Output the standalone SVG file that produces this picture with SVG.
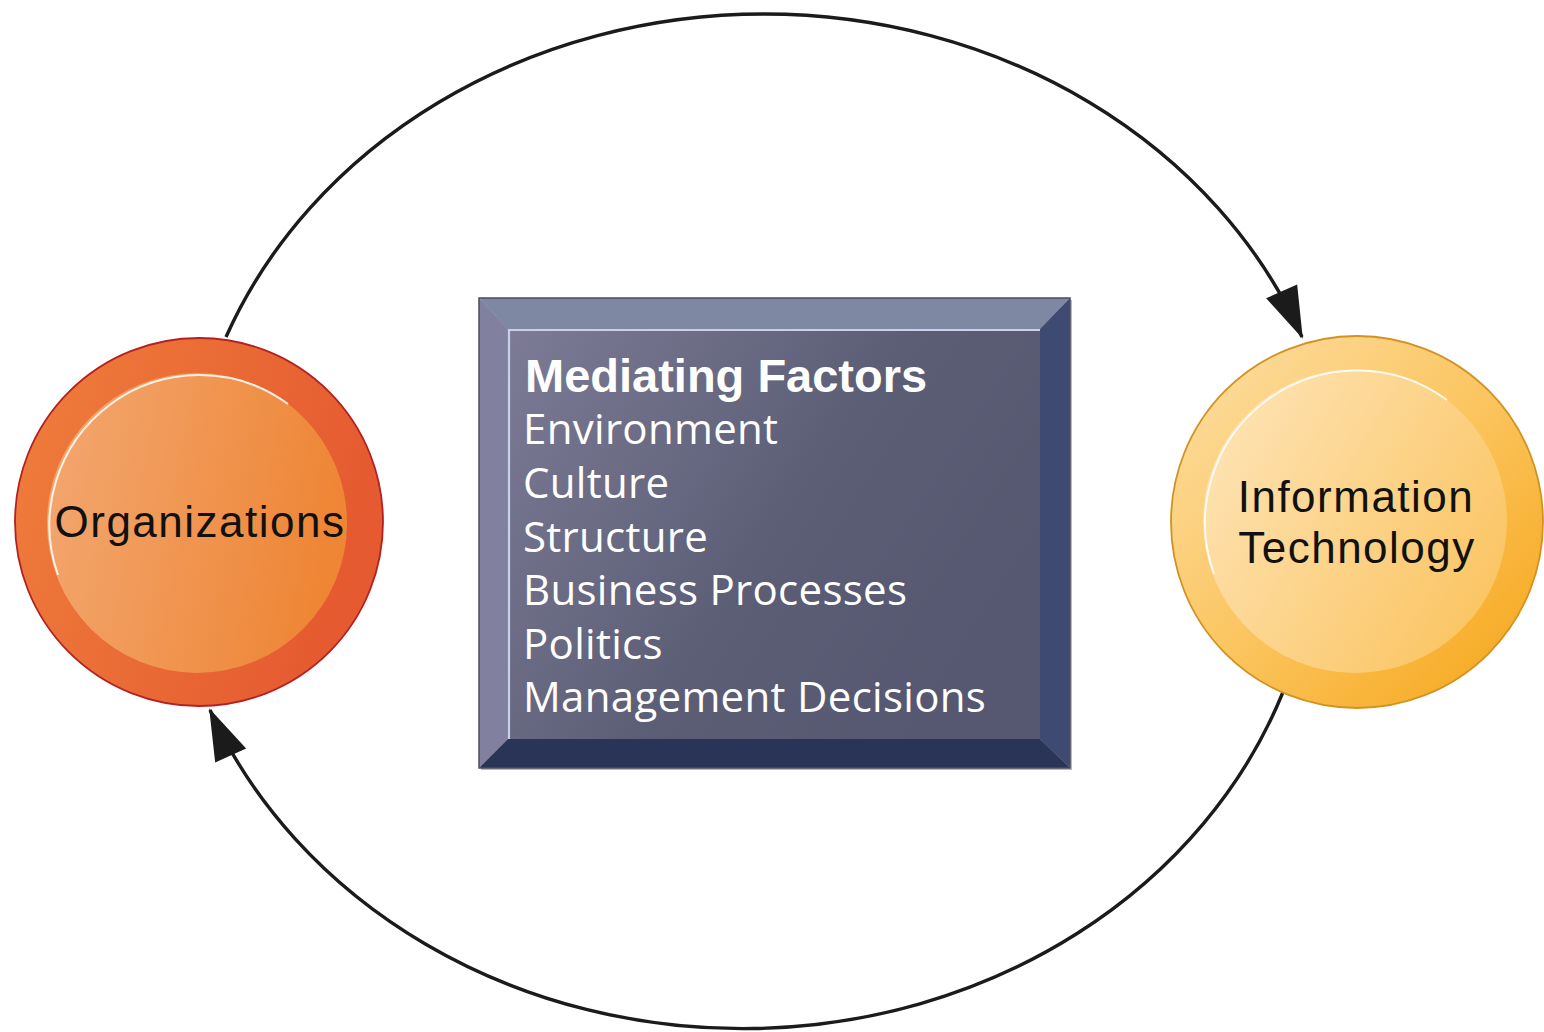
<svg xmlns="http://www.w3.org/2000/svg" width="1544" height="1032" viewBox="0 0 1544 1032">
<style>
.conn{fill:none;stroke:#1b1b1b;stroke-width:3.4}
.lbl{font-family:"Liberation Sans",Arial,sans-serif;font-size:44px;fill:#111;letter-spacing:1.5px}
.head{font-family:"Liberation Sans",Arial,sans-serif;font-size:47px;font-weight:bold;fill:#fff}
.item{font-family:"Open Sans","Noto Sans",sans-serif;font-size:42px;fill:#fff;letter-spacing:0.3px}
.hl{fill:none;stroke:#fff;stroke-width:2;stroke-opacity:0.85}
</style>
<defs>
<linearGradient id="orgOuter" x1="0" y1="0" x2="1" y2="0.3">
<stop offset="0" stop-color="#ef7e3c"/><stop offset="1" stop-color="#e55a30"/>
</linearGradient>
<linearGradient id="orgInner" x1="0" y1="0" x2="1" y2="0.2">
<stop offset="0" stop-color="#f3a872"/><stop offset="1" stop-color="#ee8636"/>
</linearGradient>
<linearGradient id="itOuter" x1="0" y1="0" x2="1" y2="1">
<stop offset="0" stop-color="#fde0a8"/><stop offset="0.5" stop-color="#fbc560"/><stop offset="1" stop-color="#f6a414"/>
</linearGradient>
<linearGradient id="itInner" x1="0" y1="0" x2="1" y2="0.6">
<stop offset="0" stop-color="#fee6bc"/><stop offset="1" stop-color="#fbc666"/>
</linearGradient>
<linearGradient id="face" x1="0" y1="0" x2="1" y2="0.5">
<stop offset="0" stop-color="#7d7b96"/><stop offset="0.6" stop-color="#5c5e76"/><stop offset="1" stop-color="#555870"/>
</linearGradient>
<marker id="arrow" markerUnits="userSpaceOnUse" markerWidth="60" markerHeight="40" viewBox="-52 -20 56 40" refX="0" refY="0" orient="auto">
<path d="M2,0 L-50,-17 L-50,17 Z" fill="#1b1b1b"/>
</marker>
</defs>

<g id="connectors">
<path class="conn" d="M226,337 A578,509 0 0 1 1302,337" marker-end="url(#arrow)"/>
<path class="conn" d="M1283,692 A574,508 0 0 1 210,710" marker-end="url(#arrow)"/>
</g>

<g id="organizations">
<circle cx="199" cy="522" r="184" fill="url(#orgOuter)" stroke="#b32222" stroke-width="1.8"/>
<circle cx="197" cy="523" r="150" fill="url(#orgInner)"/>
<path class="hl" d="M 58,575 A150,150 0 0 1 288,404"/>
<text class="lbl" x="200" y="537" text-anchor="middle">Organizations</text>
</g>

<g id="information-technology">
<circle cx="1357" cy="522" r="186" fill="url(#itOuter)" stroke="#d29222" stroke-width="1.8"/>
<circle cx="1355" cy="521" r="152" fill="url(#itInner)"/>
<path class="hl" d="M 1214,574 A152,152 0 0 1 1447,400"/>
<text class="lbl" x="1356" y="512" text-anchor="middle">Information</text>
<text class="lbl" x="1357" y="563" text-anchor="middle">Technology</text>
</g>

<g id="mediating-factors">
<rect x="481" y="300" width="591" height="470" fill="#b8b8c0"/>
<polygon points="479,298 1070,298 1040,329 508,329" fill="#7f88a2"/>
<polygon points="479,298 508,329 508,739 479,768" fill="#81809f"/>
<polygon points="1070,298 1070,768 1040,739 1040,329" fill="#3e4a72"/>
<polygon points="479,768 508,739 1040,739 1070,768" fill="#2a3456"/>
<rect x="508" y="329" width="532" height="410" fill="url(#face)"/>
<path d="M509,739 L509,330 L1040,330" fill="none" stroke="#c8d0ea" stroke-width="2.2"/>
<rect x="479" y="298" width="591" height="470" fill="none" stroke="#4c4c5e" stroke-width="1.5"/>
<text class="head" x="525" y="392">Mediating Factors</text>
<text class="item" x="523" y="444">Environment</text>
<text class="item" x="523" y="498">Culture</text>
<text class="item" x="523" y="552">Structure</text>
<text class="item" x="523" y="605">Business Processes</text>
<text class="item" x="523" y="659">Politics</text>
<text class="item" x="523" y="712">Management Decisions</text>
</g>
</svg>
